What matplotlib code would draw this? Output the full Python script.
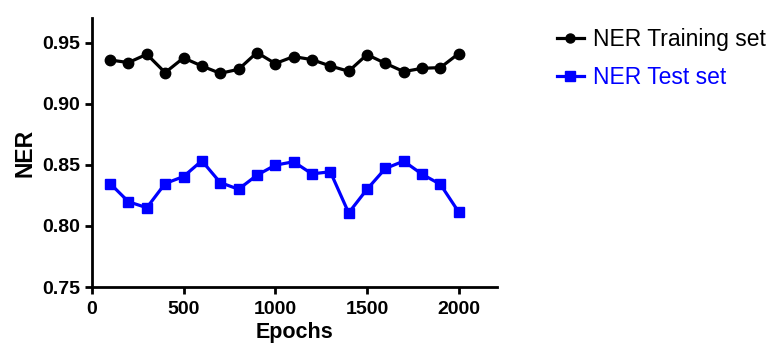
import matplotlib.pyplot as plt

plt.rcParams['font.family'] = ['Liberation Sans', 'DejaVu Sans']

# Data
epochs = [100, 200, 300, 400, 500, 600, 700, 800, 900, 1000,
          1100, 1200, 1300, 1400, 1500, 1600, 1700, 1800, 1900, 2000]
ner_train = [0.9357, 0.9336, 0.9404, 0.9254, 0.9374, 0.9308, 0.9248, 0.9281, 0.9418, 0.9328,
             0.9385, 0.9360, 0.9308, 0.9265, 0.9401, 0.9330, 0.9262, 0.9289, 0.9295, 0.9410]
ner_test = [0.8347, 0.8198, 0.8149, 0.8347, 0.8404, 0.8533, 0.8355, 0.8300, 0.8415, 0.8497,
            0.8525, 0.8426, 0.8443, 0.8107, 0.8300, 0.8470, 0.8530, 0.8423, 0.8340, 0.8113]
y_ticks = [0.75, 0.80, 0.85, 0.90, 0.95]
x_ticks = [0, 500, 1000, 1500, 2000]

fig = plt.figure(figsize=(7.71, 3.54), dpi=100)
ax = fig.add_axes([0.119, 0.189, 0.526, 0.76])

ax.plot(epochs, ner_train, 'o-', color='black', lw=2.3, markersize=7.5, label='NER Training set')
ax.plot(epochs, ner_test, 's-', color='#0000ff', lw=2.3, markersize=7.5, label='NER Test set')

ax.set_xlim(0, 2210)
ax.set_ylim(0.75, 0.97)
ax.set_xticks(x_ticks)
ax.set_yticks(y_ticks)
ax.set_yticklabels([f'{v:.2f}' for v in y_ticks])

for s in ['top', 'right']:
    ax.spines[s].set_visible(False)
for s in ['left', 'bottom']:
    ax.spines[s].set_linewidth(2)
ax.tick_params(width=2, length=5, labelsize=14)
ax.tick_params(axis='x', pad=5)
for lab in ax.get_xticklabels() + ax.get_yticklabels():
    lab.set_fontweight('bold')

ax.set_xlabel('Epochs', fontsize=15.5, fontweight='bold', labelpad=3)
ax.set_ylabel('NER', fontsize=16.5, fontweight='bold', labelpad=4)

leg = fig.legend(loc='upper left', bbox_to_anchor=(0.722, 0.92), frameon=False,
                 fontsize=16.5, handlelength=1.2, handletextpad=0.4,
                 labelspacing=0.62, borderpad=0, borderaxespad=0)
for txt, line in zip(leg.get_texts(), leg.get_lines()):
    txt.set_color(line.get_color())
    line.set_markersize(6.5)

fig.savefig('out.png', dpi=100)
